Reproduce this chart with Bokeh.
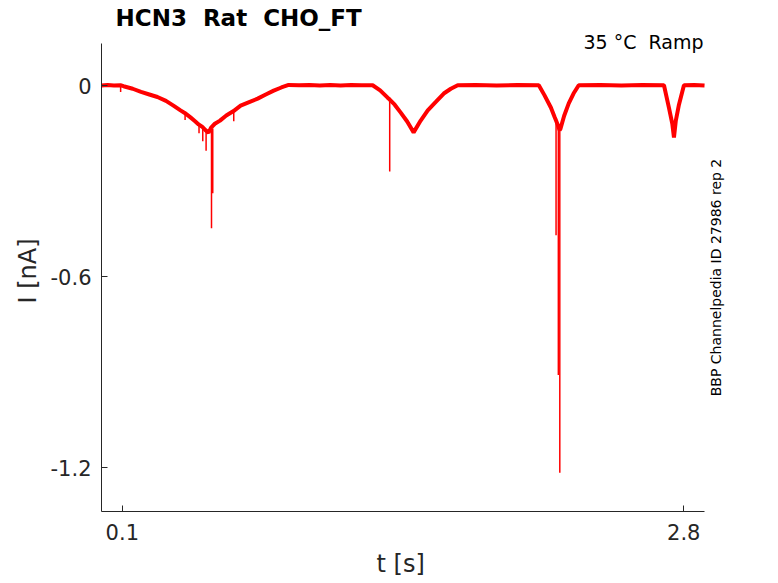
import math
from bokeh.plotting import figure
from bokeh.models import Range1d, FixedTicker, Label, Title
from bokeh.embed import file_html
from bokeh.resources import INLINE

# ---- data (main current band) ----
t_s = [
    0.000, 0.030, 0.060, 0.091, 0.106, 0.150, 0.190, 0.230,
    0.269, 0.310, 0.346, 0.380, 0.400, 0.428, 0.450, 0.467,
    0.485, 0.500, 0.515, 0.527, 0.545, 0.570, 0.600, 0.635,
    0.669, 0.710, 0.751, 0.790, 0.828, 0.865, 0.900, 0.950, 1.000,
    1.050, 1.100, 1.150, 1.200, 1.250, 1.304, 1.340, 1.376, 1.386,
    1.410, 1.439, 1.470, 1.501, 1.535, 1.569, 1.610, 1.646, 1.680,
    1.713, 1.800, 1.900, 2.000, 2.103, 2.130, 2.161, 2.180, 2.185,
    2.195, 2.203, 2.207, 2.225, 2.247, 2.270,
    2.295, 2.400, 2.500, 2.600, 2.705, 2.729, 2.745, 2.753, 2.762, 2.777,
    2.801, 2.850, 2.900,
]
i_nA = [
    0.000, 0.002, 0.000, 0.001, -0.002, -0.010, -0.020, -0.028,
    -0.036, -0.048, -0.063, -0.078, -0.086, -0.100, -0.112, -0.122,
    -0.130, -0.140, -0.148, -0.132, -0.120, -0.110, -0.094, -0.080,
    -0.063, -0.052, -0.041, -0.028, -0.016, -0.006, 0.002, 0.001, 0.002,
    0.000, 0.002, 0.000, 0.002, 0.001, 0.001, -0.015, -0.038, -0.044,
    -0.060, -0.085, -0.113, -0.147, -0.110, -0.078, -0.050, -0.025, -0.010,
    0.001, 0.002, 0.000, 0.002, 0.001, -0.030, -0.069, -0.100, -0.108,
    -0.125, -0.140, -0.136, -0.095, -0.056, -0.025,
    0.001, 0.002, 0.000, 0.002, 0.001, -0.070, -0.120, -0.163, -0.110, -0.060,
    0.001, 0.002, 0.000,
]

# ---- narrow downward spikes (time, band level, spike tip) ----
spike_t = [0.092, 0.402, 0.469, 0.487, 0.503, 0.529, 0.535, 0.636,
           1.386, 2.186, 2.197, 2.204]
spike_from = [0.001, -0.086, -0.124, -0.131, -0.140, -0.140, -0.135, -0.080,
              -0.044, -0.108, -0.125, -0.140]
spike_to = [-0.020, -0.108, -0.150, -0.175, -0.205, -0.448, -0.338, -0.112,
            -0.270, -0.470, -0.909, -1.216]

x_ticks = [0.1, 2.8]
x_tick_labels = ["0.1", "2.8"]
y_ticks = [-1.2, -0.6, 0.0]
y_tick_labels = ["-1.2", "-0.6", "0"]

NB = "\u00a0"
title_text = "HCN3 " + NB + "Rat " + NB + "CHO_FT"
condition_text = "35 °C " + NB + "Ramp"
source_text = "BBP Channelpedia ID 27986 rep 2"
x_label = "t [s]"
y_label = "I [nA]"

x_axis_lim = (0.0, 2.9)        # extent of the drawn x axis
x_view_right = 3.073           # room at the right for the vertical note
y_axis_lim = (-1.338, 0.132)   # extent of the drawn y axis
y_view_top = 0.173             # room above the axis for the top note
condition_y = 0.138

AX = "#262626"
FONT = "DejaVu Sans"

p = figure(width=778, height=583, output_backend="svg", toolbar_location=None,
           x_range=Range1d(x_axis_lim[0], x_view_right),
           y_range=Range1d(y_axis_lim[0], y_view_top),
           min_border_left=101, min_border_right=38,
           min_border_top=30, min_border_bottom=71)

p.background_fill_color = "white"
p.border_fill_color = "white"
p.outline_line_color = None
p.xgrid.visible = False
p.ygrid.visible = False

p.line(t_s, i_nA, line_color="#ff0000", line_width=4)
p.segment(x0=spike_t, y0=spike_from, x1=spike_t, y1=spike_to,
          line_color="#ff0000", line_width=1.5)

# axes
for ax in (p.xaxis[0], p.yaxis[0]):
    ax.axis_line_color = AX
    ax.axis_line_width = 1
    ax.major_tick_line_color = AX
    ax.major_tick_in = 6
    ax.major_tick_out = 0
    ax.minor_tick_line_color = None
    ax.major_label_text_color = AX
    ax.major_label_text_font = FONT
    ax.major_label_text_font_size = "21px"
    ax.axis_label_text_color = AX
    ax.axis_label_text_font = FONT
    ax.axis_label_text_font_size = "24px"
    ax.axis_label_text_font_style = "normal"

p.xaxis.bounds = x_axis_lim
p.yaxis.bounds = y_axis_lim
p.xaxis.ticker = FixedTicker(ticks=x_ticks)
p.xaxis.major_label_overrides = dict(zip(x_ticks, x_tick_labels))
p.yaxis.ticker = FixedTicker(ticks=y_ticks)
p.yaxis.major_label_overrides = dict(zip(y_ticks, y_tick_labels))
p.yaxis.axis_label = y_label
p.xaxis.major_label_standoff = 12
p.yaxis.major_label_standoff = 10
p.yaxis.axis_label_standoff = 6

# x axis label, centred under the drawn x axis (not the padded frame)
p.add_layout(Title(text=x_label, align="left", offset=275,
                   text_font=FONT, text_font_size="24px",
                   text_font_style="normal", text_color=AX,
                   standoff=11), "below")

# main title
p.title.text = title_text
p.title.align = "left"
p.title.offset = 14
p.title.text_font = FONT
p.title.text_font_size = "23px"
p.title.text_font_style = "bold"
p.title.text_color = "black"
p.title.standoff = 0

# condition text, top right
p.add_layout(Label(x=x_axis_lim[1], y=condition_y, text=condition_text,
                   text_align="right", text_baseline="middle",
                   text_font=FONT, text_font_size="19px", text_color="black",
                   x_offset=-1))

# vertical source text at right
mid_y = (y_axis_lim[0] + y_axis_lim[1]) / 2
p.add_layout(Label(x=x_axis_lim[1], y=mid_y, text=source_text,
                   angle=math.pi / 2, text_align="center", text_baseline="middle",
                   text_font=FONT, text_font_size="14px", text_color="black",
                   x_offset=11))

open("out.html", "w").write(file_html(p, INLINE))
